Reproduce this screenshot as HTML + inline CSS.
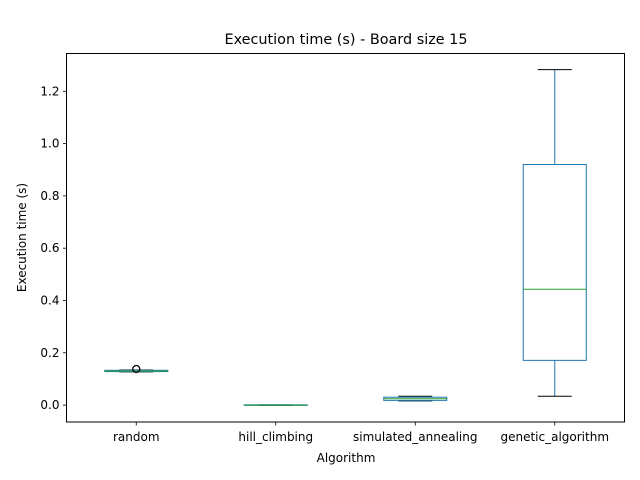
<!DOCTYPE html>
<html><head><meta charset="utf-8"><style>
html,body{margin:0;padding:0;background:#fff;}
svg{display:block;font-family:"DejaVu Sans","Liberation Sans",sans-serif;}
</style></head><body>
<svg id="chart" width="640" height="480">
<rect width="640" height="480" fill="#fff"/>
<text x="346" y="44" font-size="14.4" text-anchor="middle">Execution time (s) - Board size 15</text>
<g id="plot"></g>
<rect x="66.5" y="53.5" width="558" height="368.5" fill="none" stroke="#000" stroke-width="1"/>
<text x="346" y="462" font-size="12" text-anchor="middle">Algorithm</text>
<text transform="translate(26,237.5) rotate(-90)" font-size="12" text-anchor="middle">Execution time (s)</text>
</svg>
<script>
const categories = ["random","hill_climbing","simulated_annealing","genetic_algorithm"];
const whiskerLow = [0.127, -0.001, 0.016, 0.034];
const q1Values = [0.128, -0.001, 0.018, 0.171];
const medians = [0.130, 0.000, 0.024, 0.443];
const q3Values = [0.133, 0.001, 0.030, 0.920];
const whiskerHigh = [0.134, 0.001, 0.034, 1.283];
const fliers = [[0.138], [], [], []];
const yTicks = [0.0, 0.2, 0.4, 0.6, 0.8, 1.0, 1.2];

const NS = "http://www.w3.org/2000/svg";
const plotG = document.getElementById("plot");
const pLeft = 66.5, pRight = 624.5, pTop = 53.5, pBottom = 422;
const yMin = -0.0647, yMax = 1.3446;
function yS(v){ return pBottom - (v - yMin) / (yMax - yMin) * (pBottom - pTop); }
function xS(i){ return pLeft + (i + 0.5) / categories.length * (pRight - pLeft); }
const step = (pRight - pLeft) / categories.length;
function mk(tag, attrs){ const e = document.createElementNS(NS, tag); for (const k in attrs) e.setAttribute(k, attrs[k]); plotG.appendChild(e); return e; }

yTicks.forEach(t => {
  const yy = yS(t);
  const l = mk("line", {x1: pLeft - 3.5, x2: pLeft, y1: yy, y2: yy, stroke: "#000", "stroke-width": 0.8});
  
  
  const tx = mk("text", {x: pLeft - 7, y: yy + 4, "font-size": 12, "text-anchor": "end"});
  tx.textContent = t.toFixed(1);
  
  
});

categories.forEach((c, i) => {
  const cx = xS(i), hw = step * 0.226, cw = step * 0.122;
  const tk = mk("line", {x1: cx, x2: cx, y1: pBottom, y2: pBottom + 3.5, stroke: "#000", "stroke-width": 0.8});
  
  
  const tl = mk("text", {x: cx, y: pBottom + 19, "font-size": 12, "text-anchor": "middle"});
  tl.textContent = c;
  
  

  const w1 = mk("line", {x1: cx, x2: cx, y1: yS(q1Values[i]), y2: yS(whiskerLow[i]), stroke: "#1f77b4", "stroke-width": 1});
  
  
  const w2 = mk("line", {x1: cx, x2: cx, y1: yS(q3Values[i]), y2: yS(whiskerHigh[i]), stroke: "#1f77b4", "stroke-width": 1});
  
  
  const c1 = mk("line", {x1: cx - cw, x2: cx + cw, y1: yS(whiskerLow[i]), y2: yS(whiskerLow[i]), stroke: "#000", "stroke-width": 1});
  
  
  const c2 = mk("line", {x1: cx - cw, x2: cx + cw, y1: yS(whiskerHigh[i]), y2: yS(whiskerHigh[i]), stroke: "#000", "stroke-width": 1});
  
  
  const bx = mk("rect", {x: cx - hw, y: yS(q3Values[i]), width: 2 * hw, height: Math.max(0.5, yS(q1Values[i]) - yS(q3Values[i])), fill: "none", stroke: "#1f77b4", "stroke-width": 1});
  
  
  const md = mk("line", {x1: cx - hw, x2: cx + hw, y1: yS(medians[i]), y2: yS(medians[i]), stroke: "#2ca02c", "stroke-width": 1});
  
  
  fliers[i].forEach(f => {
    const ci = mk("circle", {cx: cx, cy: yS(f), r: 3.5, fill: "none", stroke: "#000", "stroke-width": 1.3});
    
    
  });
});
</script>
</body></html>
